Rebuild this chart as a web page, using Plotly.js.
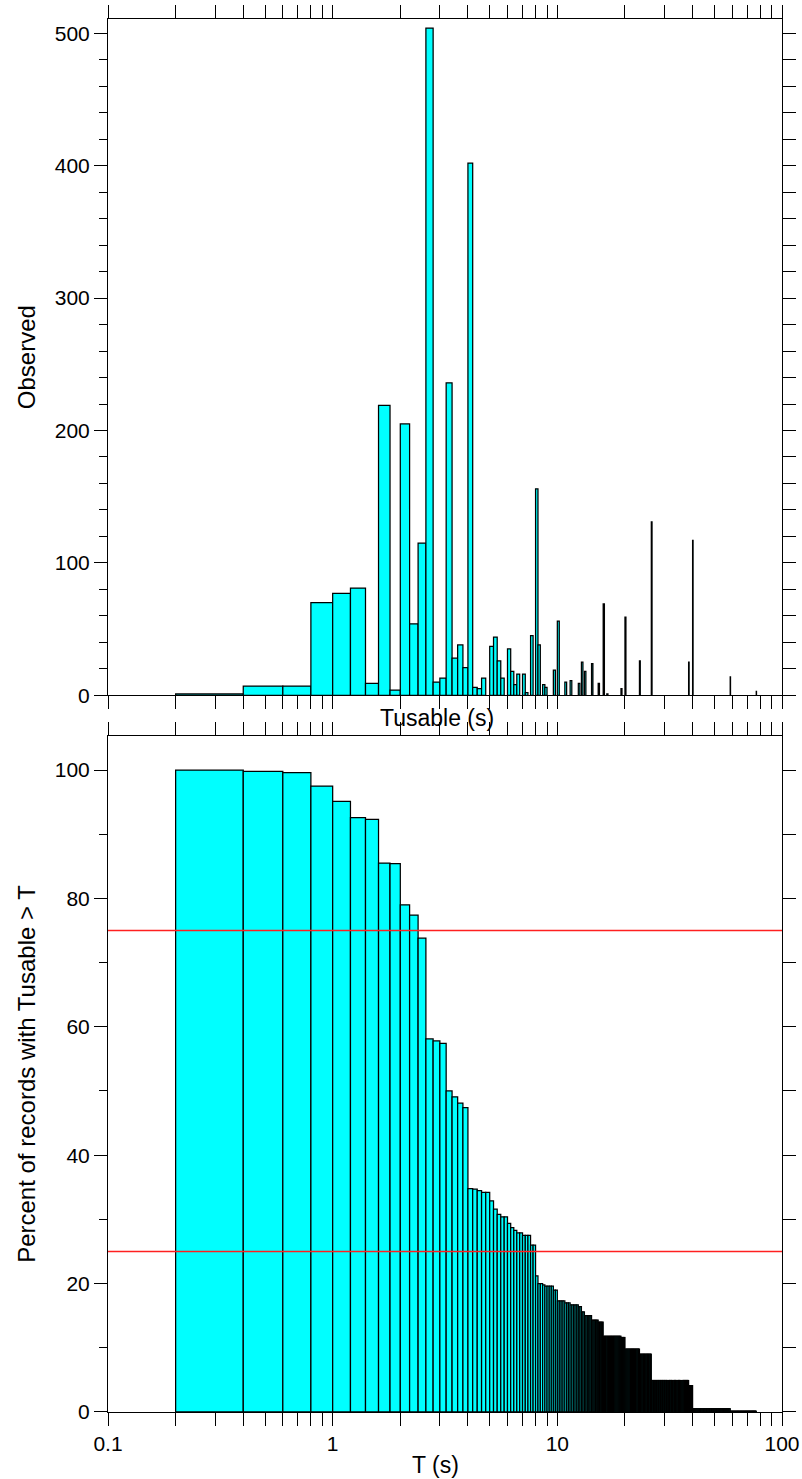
<!DOCTYPE html>
<html>
<head>
<meta charset="utf-8">
<script src="https://cdn.plot.ly/plotly-3.0.1.min.js"></script>
<style>html,body{margin:0;padding:0;background:#fff;}#chart{width:802px;height:1479px;}</style>
</head>
<body>
<div id="chart"></div>
<script>
// ---- Data ----
// Histogram bin width (s); bins start at 0.2 s
const binWidth = 0.2;
// Top panel: bins with a non-zero count (left edge of bin, s)
const obsBinStart = [0.2,0.4,0.6,0.8,1.0,1.2,1.4,1.6,1.8,2.0,2.2,2.4,2.6,2.8,3.0,3.2,3.4,3.6,3.8,4.0,
  4.2,4.4,4.6,5.0,5.2,5.4,5.6,6.0,6.2,6.4,6.6,7.0,7.2,7.6,8.0,8.2,8.6,8.8,9.6,10.0,
  10.8,11.4,12.4,12.8,13.2,14.2,15.2,16.0,16.6,19.2,20.0,23.2,26.2,38.4,40.0,58.8,76.8];
const obsCount = [1,7,7,70,77,81,9,219,4,205,54,115,504,10,13,236,28,38,21,402,
  6,5,13,37,44,26,13,35,18,8,16,16,2,45,156,38,8,6,19,56,
  10,11,9,25,18,24,9,69,1,5,59,26,131,25,117,14,3];
// Bottom panel: percent of records with Tusable > T, read as a step profile
// (bin where a level starts, level in %); every 0.2 s bin up to the last edge keeps its level
const pctLevelStart = [0.2,0.4,0.6,0.8,1.0,1.2,1.4,1.6,1.8,2.0,2.2,2.4,2.6,2.8,3.0,3.2,3.4,3.6,3.8,4.0,
  4.2,4.4,4.6,5.0,5.2,5.4,5.6,6.0,6.2,6.4,6.6,7.0,7.6,8.0,8.2,8.6,8.8,9.6,10.0,10.8,
  11.4,12.4,12.8,13.2,14.2,15.2,16.0,19.2,20.0,23.2,26.2,38.4,40.0,58.8];
const pctLevel = [100,99.8,99.6,97.5,95.1,92.6,92.3,85.5,85.4,79.0,77.4,73.8,58.1,57.8,57.4,50.0,49.1,48.1,47.4,34.8,
  34.7,34.5,34.2,32.9,31.6,30.8,30.4,29.4,28.7,28.3,27.9,27.5,26.0,21.2,20.0,19.8,19.6,19.0,17.3,17.0,
  16.7,16.4,15.6,15.0,14.3,14.0,11.8,11.6,9.8,9.0,4.9,4.1,0.5,0.1];
const pctLastEdge = 76.8;
// Reference lines (%)
const pctThresholds = [25, 75];
// Axis ticks
const xMajorTicks = [0.1, 1, 10, 100];
const xMajorLabels = ['0.1', '1', '10', '100'];
const xMinorTicks = [0.2,0.3,0.4,0.5,0.6,0.7,0.8,0.9,2,3,4,5,6,7,8,9,20,30,40,50,60,70,80,90];

// ---- Build per-bin table for the bottom panel from the step levels ----
const pctBinStart = [], pctValue = [];
for (let i = 0; i < pctLevelStart.length; i++) {
  const end = (i + 1 < pctLevelStart.length) ? pctLevelStart[i + 1] : pctLastEdge;
  const n = Math.round((end - pctLevelStart[i]) / binWidth);
  for (let k = 0; k < n; k++) {
    pctBinStart.push(+(pctLevelStart[i] + k * binWidth).toFixed(1));
    pctValue.push(pctLevel[i]);
  }
}

const CYAN = '#00FFFF';
const barStyle = {color: CYAN, line: {color: '#000', width: 1.25}};

const traces = [
  {type: 'bar', x: obsBinStart, y: obsCount, width: binWidth, offset: 0,
   xaxis: 'x', yaxis: 'y', marker: barStyle, hoverinfo: 'x+y'},
  {type: 'bar', x: pctBinStart, y: pctValue, width: binWidth, offset: 0,
   xaxis: 'x2', yaxis: 'y2', marker: barStyle, hoverinfo: 'x+y'},
  // carriers for the right-hand tick axes
  {type: 'scatter', x: [1], y: [0], xaxis: 'x', yaxis: 'y3', mode: 'markers',
   marker: {opacity: 0}, hoverinfo: 'skip'},
  {type: 'scatter', x: [1], y: [0], xaxis: 'x2', yaxis: 'y4', mode: 'markers',
   marker: {opacity: 0}, hoverinfo: 'skip'}
];

const FONT = 'Liberation Sans, Arial, Helvetica, sans-serif';
const topDomain = [0.5145, 1];
const botDomain = [0, 0.4853];
const topRange = [0, 510.8];
const botRange = [0, 105.3];

function xAxis(anchor, showLabels) {
  return {
    type: 'log', range: [-1, 2], anchor: anchor, domain: [0, 1],
    showline: true, linecolor: '#000', linewidth: 1, mirror: 'allticks',
    ticks: 'outside', ticklen: 13, tickwidth: 1, tickcolor: '#000',
    tickmode: 'array', tickvals: xMajorTicks, ticktext: xMajorLabels,
    showticklabels: showLabels,
    minor: {tickmode: 'array', tickvals: xMinorTicks, ticks: 'outside', ticklen: 8,
            tickwidth: 1, tickcolor: '#000', showgrid: false},
    showgrid: false, zeroline: false,
    tickfont: {family: FONT, size: 21, color: '#000'}
  };
}
function yAxisLeft(anchor, domain, range, dtick, minorDtick, title) {
  return {
    anchor: anchor, domain: domain, range: range, side: 'left',
    showline: true, linecolor: '#000', linewidth: 1,
    ticks: 'outside', ticklen: 13, tickwidth: 1, tickcolor: '#000', dtick: dtick, tick0: 0,
    minor: {dtick: minorDtick, tick0: 0, ticks: 'outside', ticklen: 8, tickwidth: 1,
            tickcolor: '#000', showgrid: false},
    showgrid: false, zeroline: false,
    tickfont: {family: FONT, size: 21, color: '#000'},
    title: {text: title, font: {family: FONT, size: 24, color: '#000'}, standoff: 12}
  };
}
function yAxisRight(over, anchor, range, dtick) {
  return {
    overlaying: over, anchor: anchor, side: 'right', range: range,
    showline: true, linecolor: '#000', linewidth: 1,
    ticks: 'outside', ticklen: 13, tickwidth: 1, tickcolor: '#000', dtick: dtick, tick0: 0,
    showticklabels: false, showgrid: false, zeroline: false
  };
}

const shapes = pctThresholds.map(v => ({
  type: 'line', xref: 'x2 domain', yref: 'y2', x0: 0, x1: 1, y0: v, y1: v,
  line: {color: '#FF2020', width: 1.3}, layer: 'above'
}));

// x-axis titles as text placed in page pixels
const H = 1479, ML = 108, PW = 802 - 108 - 20, MT = 19, PH = 1479 - 19 - 67;
function paperX(px) { return (px - ML) / PW; }
function paperY(py) { return (H - 67 - py) / PH; }
const annotations = [
  {text: 'Tusable (s)', xref: 'paper', yref: 'paper', x: paperX(437), y: paperY(718),
   xanchor: 'center', yanchor: 'middle', showarrow: false,
   font: {family: FONT, size: 23, color: '#000'}},
  {text: 'T (s)', xref: 'paper', yref: 'paper', x: paperX(435), y: paperY(1465),
   xanchor: 'center', yanchor: 'middle', showarrow: false,
   font: {family: FONT, size: 23, color: '#000'}}
];

const layout = {
  width: 802, height: 1479,
  margin: {l: 108, r: 20, t: 19, b: 67, pad: 0},
  paper_bgcolor: '#fff', plot_bgcolor: '#fff',
  showlegend: false, barmode: 'overlay', bargap: 0,
  font: {family: FONT, size: 21, color: '#000'},
  xaxis: xAxis('y', false),
  yaxis: yAxisLeft('x', topDomain, topRange, 100, 20, 'Observed'),
  yaxis3: yAxisRight('y', 'x', topRange, 20),
  xaxis2: xAxis('y2', true),
  yaxis2: yAxisLeft('x2', botDomain, botRange, 20, 10, 'Percent of records with Tusable > T'),
  yaxis4: yAxisRight('y2', 'x2', botRange, 10),
  shapes: shapes,
  annotations: annotations
};

Plotly.newPlot('chart', traces, layout, {staticPlot: true, displayModeBar: false});
</script>
</body>
</html>
